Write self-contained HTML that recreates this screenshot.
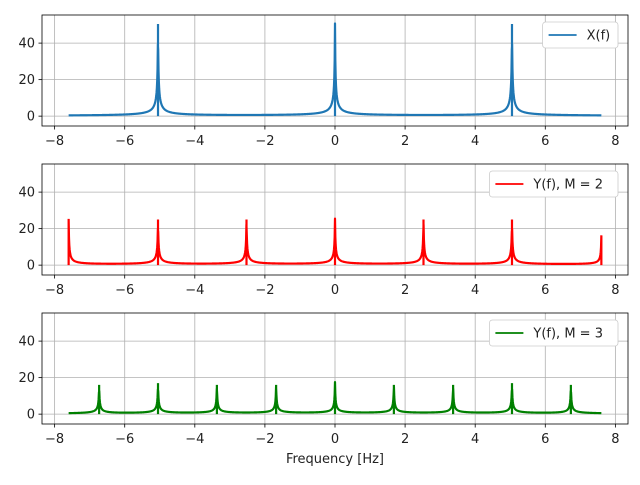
<!DOCTYPE html>
<html><head><meta charset="utf-8"><style>
body{margin:0;background:#fff;font-family:"Liberation Sans","DejaVu Sans",sans-serif}
</style></head><body>
<svg id="c" width="640" height="480" xmlns="http://www.w3.org/2000/svg" font-family="DejaVu Sans, Liberation Sans, sans-serif"></svg>
<script>
const xTicks=[-8,-6,-4,-2,0,2,4,6,8];
const yTicks=[0,20,40];
const xPeaks=[-5.05,0,5.05];
const xHeights=[50.5,50.5,50.5];
const y2Peaks=[-7.6,-5.05,-2.525,0,2.525,5.05,7.6];
const y2Heights=[25,25,25,25,25,25,16];
const y3Peaks=[-6.73,-5.05,-3.37,-1.68,0,1.68,3.37,5.05,6.73];
const y3Heights=[16,17,16,16,17,16,16,17,16];
const labels=["X(f)","Y(f), M = 2","Y(f), M = 3"];
const colors=["#1f77b4","#ff0000","#008000"];
const tops=[15,164,313];
const NS="http://www.w3.org/2000/svg";
const svg=document.getElementById('c');
const L=42,R=628,H=111,xmin=-8.36,xmax=8.36,ymin=-5.4,ymax=55.4;
function sx(v){return L+(v-xmin)/(xmax-xmin)*(R-L);}
function mk(t,a,p){const e=document.createElementNS(NS,t);for(const k in a)e.setAttribute(k,a[k]);(p||svg).appendChild(e);return e;}
const sets=[[xPeaks,xHeights],[y2Peaks,y2Heights],[y3Peaks,y3Heights]];
sets.forEach((s,i)=>{
  const top=tops[i],bot=top+H;
  const sy=v=>bot-(v-ymin)/(ymax-ymin)*H;
  const g=mk('g',{});
  
  
  xTicks.forEach(t=>{const x=sx(t);
    const gl=mk('line',{x1:x,x2:x,y1:top,y2:bot,stroke:'#b0b0b0','stroke-width':0.8},g);
    
    mk('line',{x1:x,x2:x,y1:bot,y2:bot+3.5,stroke:'#000','stroke-width':0.8},g);
    const tx=mk('text',{x:x,y:bot+19,'font-size':13,'text-anchor':'middle',fill:'#222'},g);
    tx.textContent=(t<0?'\u2212':'')+Math.abs(t);
    });
  yTicks.forEach(t=>{const y=sy(t);
    const gl=mk('line',{x1:L,x2:R,y1:y,y2:y,stroke:'#b0b0b0','stroke-width':0.8},g);
    
    mk('line',{x1:L-3.5,x2:L,y1:y,y2:y,stroke:'#000','stroke-width':0.8},g);
    const tx=mk('text',{x:L-7,y:y+4.5,'font-size':13,'text-anchor':'end',fill:'#222'},g);
    tx.textContent=t;
    });
  const [pk,hs]=s;let d='';const N=1600;
  for(let k=0;k<=N;k++){const f=-7.6+15.2*k/N;let v=0;
    pk.forEach((p,j)=>{const w=0.014;v+=hs[j]*w/(w+Math.abs(f-p));});
    d+=(k?'L':'M')+sx(f).toFixed(2)+','+sy(v).toFixed(2);}
  pk.forEach((p,j)=>{d+='M'+sx(p).toFixed(2)+','+sy(0).toFixed(2)+'L'+sx(p).toFixed(2)+','+sy(hs[j]).toFixed(2);});
  const ln=mk('path',{d:d,fill:'none',stroke:colors[i],'stroke-width':2.2,'stroke-linejoin':'round'},g);
  
  mk('rect',{x:L,y:top,width:R-L,height:H,fill:'none',stroke:'#000','stroke-width':0.8},g);
  const lw=labels[i].length*7.6+45;
  const lg=mk('g',{},g);
  
  mk('rect',{x:R-10-lw,y:top+7,width:lw,height:26,rx:3,fill:'#fff',stroke:'#ccc','stroke-width':0.8},lg);
  mk('line',{x1:R-10-lw+6,x2:R-10-lw+34,y1:top+20,y2:top+20,stroke:colors[i],'stroke-width':1.8},lg);
  const lt=mk('text',{x:R-10-lw+44,y:top+24.5,'font-size':13,fill:'#222'},lg);lt.textContent=labels[i];
});
const xl=mk('text',{x:335,y:463,'font-size':13,'text-anchor':'middle',fill:'#222'});
xl.textContent='Frequency [Hz]';


</script>
</body></html>
